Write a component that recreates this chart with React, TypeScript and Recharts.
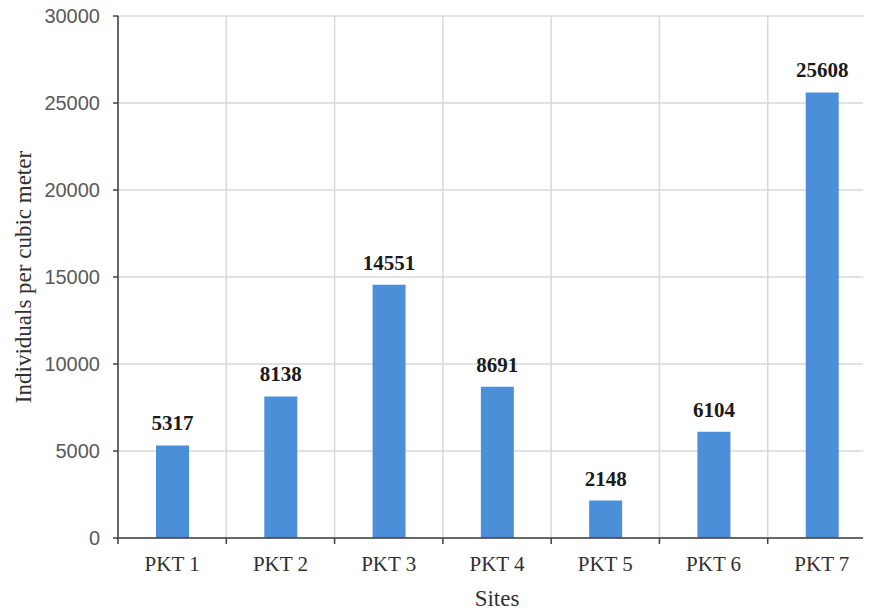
import React from 'react';
import { BarChart, Bar, XAxis, YAxis, CartesianGrid, LabelList } from 'recharts';

const sites = ['PKT 1', 'PKT 2', 'PKT 3', 'PKT 4', 'PKT 5', 'PKT 6', 'PKT 7'];
const individuals = [5317, 8138, 14551, 8691, 2148, 6104, 25608];
const yTicks = [0, 5000, 10000, 15000, 20000, 25000, 30000];

const data = sites.map((site, i) => ({ pos: i + 0.5, site, value: individuals[i] }));
const boundaries = sites.map((_, i) => i).concat([sites.length]);
const xTicks: number[] = [];
for (let i = 0; i <= sites.length; i++) {
  xTicks.push(i);
  if (i < sites.length) xTicks.push(i + 0.5);
}

const X_TICK_SIZE = 6;
const X_TICK_MARGIN = 12;
const SERIF = '"Liberation Serif", "Times New Roman", serif';
const SANS = '"Liberation Sans", Arial, sans-serif';

const XTick = (props: any) => {
  const { x, y, payload } = props;
  const v = payload.value as number;
  if (Number.isInteger(v)) {
    const top = y - X_TICK_SIZE - X_TICK_MARGIN;
    return <line x1={x} x2={x} y1={top} y2={top + X_TICK_SIZE} stroke="#404040" strokeWidth={1.5} />;
  }
  const label = sites[Math.floor(v)];
  return (
    <text x={x} y={y} dy="0.71em" textAnchor="middle" fontFamily={SERIF} fontSize={21} fill="#303030">
      {label}
    </text>
  );
};

export default function App() {
  return (
    <div style={{ margin: -8, width: 871, height: 615, overflow: 'hidden', background: '#fff' }}>
      <BarChart
        width={880}
        height={615}
        data={data}
        margin={{ top: 16, right: 4, bottom: 7, left: 18 }}
      >
        <CartesianGrid stroke="#d9d9d9" strokeWidth={1.5} verticalValues={boundaries} />
        <XAxis
          dataKey="pos"
          type="number"
          domain={[0, sites.length]}
          ticks={xTicks}
          interval={0}
          tickLine={false}
          tickSize={X_TICK_SIZE}
          tickMargin={X_TICK_MARGIN}
          tick={<XTick />}
          height={70}
          axisLine={{ stroke: '#404040', strokeWidth: 1.5 }}
          label={{ value: 'Sites', position: 'insideBottom', offset: 2, style: { fontFamily: SERIF, fontSize: 23, fill: '#303030' } }}
        />
        <YAxis
          type="number"
          domain={[0, 30000]}
          ticks={yTicks}
          interval={0}
          width={100}
          tickSize={5}
          tickMargin={13}
          tickLine={{ stroke: '#404040', strokeWidth: 1.5 }}
          axisLine={{ stroke: '#404040', strokeWidth: 1.5 }}
          tick={{ fontFamily: SANS, fontSize: 20, fill: '#595959' }}
          label={{
            value: 'Individuals per cubic meter',
            angle: -90,
            position: 'insideLeft',
            offset: 5,
            style: { textAnchor: 'middle', fontFamily: SERIF, fontSize: 23, fill: '#303030' },
          }}
        />
        <Bar dataKey="value" fill="#4a8fd8" barSize={33} isAnimationActive={false}>
          <LabelList
            dataKey="value"
            position="top"
            offset={15}
            style={{ fontFamily: SERIF, fontSize: 21, fontWeight: 'bold', fill: '#1a1a1a' }}
          />
        </Bar>
      </BarChart>
    </div>
  );
}
